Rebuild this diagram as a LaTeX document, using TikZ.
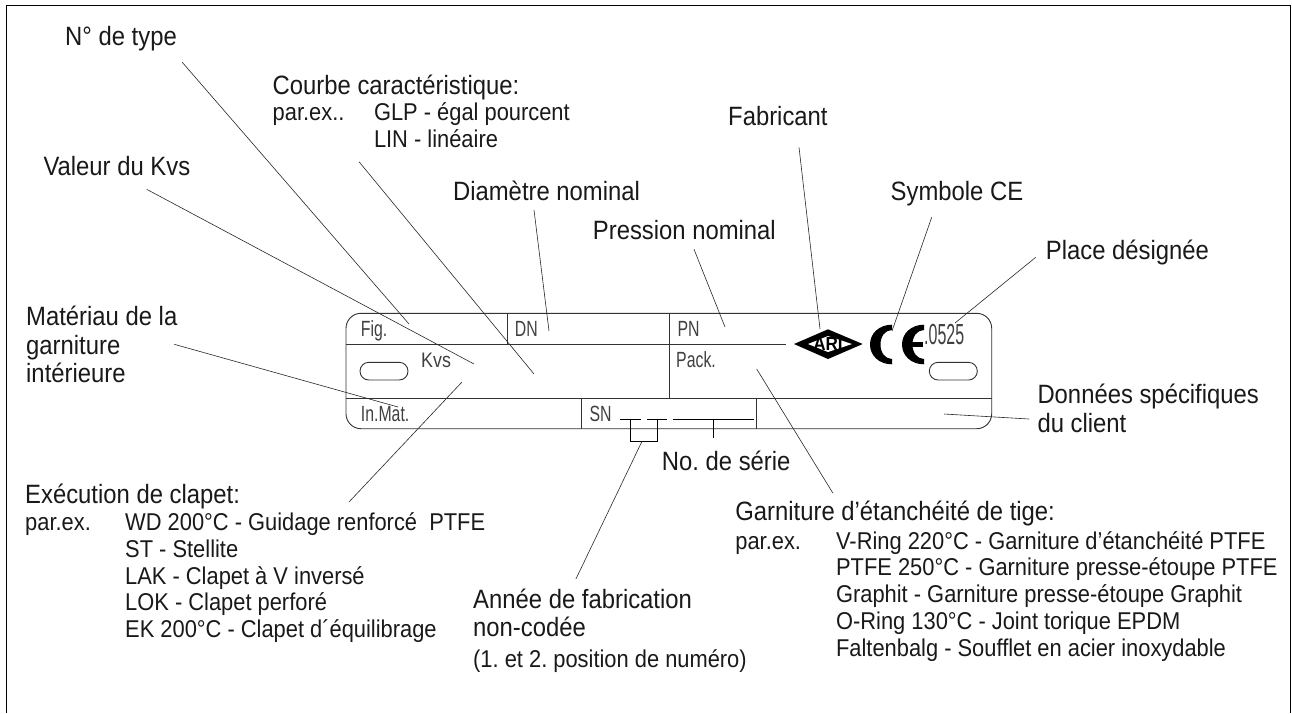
\documentclass[tikz,border=0pt]{standalone}
\usepackage{fontspec}
\setmainfont[FakeStretch=0.9]{Liberation Sans}
\newfontfamily\platefont[FakeStretch=0.72]{Liberation Sans}
\newfontfamily\kvsfont[FakeStretch=0.85]{Liberation Sans}
\newfontfamily\codefont[FakeStretch=0.55]{Liberation Sans}
\tikzset{
  lab/.style={inner sep=0pt,anchor=base west,font=\fontsize{26.5}{26.5}\selectfont,text=black!90},
  sublab/.style={lab,font=\fontsize{24.3}{24.3}\selectfont},
  platetext/.style={inner sep=0pt,anchor=base west,text=black!75,font=\platefont\fontsize{22}{22}\selectfont},
  leader/.style={draw=black!85,line width=0.6pt},
  plateline/.style={draw=black!80,line width=0.9pt},
  frameline/.style={draw=black,line width=1.1pt},
  markline/.style={draw=black,line width=0.9pt}
}
\begin{document}
\frenchspacing
\begin{tikzpicture}[x=1pt,y=-1pt]
\useasboundingbox (0,0) rectangle (1292,713);
% frame, open at the bottom
\coordinate (fbl) at (6.5,713); \coordinate (ftl) at (6.5,5.5);
\coordinate (ftr) at (1290.5,5.5); \coordinate (fbr) at (1290.5,713);
\draw[frameline] (fbl) -- (ftl) -- (ftr) -- (fbr);
% plate
\draw[plateline,rounded corners=15pt] (346,313.3) rectangle (991.7,428.7);
\coordinate (r1l) at (346,344); \coordinate (r1e) at (786,344);
\coordinate (r2l) at (346,398); \coordinate (r2r) at (991.7,398);
\draw[plateline] (r1l) -- (r1e);
\draw[plateline] (r2l) -- (r2r);
\draw[plateline] (507.3,313.3) -- (507.3,344);
\draw[plateline] (669,313.3) -- (669,398);
\draw[plateline] (581.3,398) -- (581.3,428.7);
\draw[plateline] (756.3,398) -- (756.3,428.7);
\draw[plateline,rounded corners=8.8pt] (360,362.3) rectangle (408,380);
\draw[plateline,rounded corners=8.8pt] (929.3,362.3) rectangle (977.3,380);
% plate texts
\node[platetext] (tfig) at (360.7,336.7) {Fig.};
\node[platetext] (tdn) at (514.7,336.7) {DN};
\node[platetext] (tpn) at (677.3,336.7) {PN};
\node[platetext] (tpack) at (676,367.3) {Pack.};
\node[platetext,font=\kvsfont\fontsize{21}{21}\selectfont] (tkvs) at (421,367.3) {Kvs};
\node[platetext] (tinmat) at (360.7,421.7) {In.Mat.};
\node[platetext] (tsn) at (589.3,421.7) {SN};
\node[platetext,font=\codefont\fontsize{29}{29}\selectfont] (tcode) at (924,344.3) {.0525};
% ARI logo
\fill[black] (794,344) -- (828,329.3) -- (862.7,344) -- (828,359) -- cycle;
\fill[white] (808,344) -- (828,336) -- (852,344) -- (828,352) -- cycle;
\node[inner sep=0pt,font=\bfseries\fontsize{19}{19}\selectfont] (tari) at (828,344) {ARI};
% CE mark
\fill[black] (892,324.7) .. controls (879,324.7) and (870,333.5) .. (870,344.5) .. controls (870,355.5) and (879,364.3) .. (892,364.3) -- (892,359) .. controls (885,359) and (880.5,352.5) .. (880.5,344.5) .. controls (880.5,336.5) and (885,330) .. (892,330) -- cycle;
\fill[black] (924,324.7) .. controls (911,324.7) and (902,333.5) .. (902,344.5) .. controls (902,355.5) and (911,364.3) .. (924,364.3) -- (924,359) .. controls (917,359) and (912.5,352.5) .. (912.5,344.5) .. controls (912.5,336.5) and (917,330) .. (924,330) -- cycle;
\fill[black] (908,342.3) rectangle (923,346.7);
% serial number marks
\coordinate (d1a) at (620,419); \coordinate (d1b) at (640.7,419);
\coordinate (d2a) at (647,419); \coordinate (d2b) at (667,419);
\coordinate (d3a) at (673,419); \coordinate (d3b) at (754,419);
\draw[markline] (d1a) -- (d1b);
\draw[markline] (d2a) -- (d2b);
\draw[markline] (d3a) -- (d3b);
\coordinate (bra) at (630.7,419); \coordinate (brb) at (630.7,441.3);
\coordinate (brc) at (657.3,441.3); \coordinate (brd) at (657.3,419);
\draw[markline] (bra) -- (brb) -- (brc) -- (brd);
\coordinate (tka) at (713.3,419); \coordinate (tkb) at (713.3,437.7);
\draw[markline] (tka) -- (tkb);
% labels
\node[lab] (ltype) at (65,45) {N° de type};
\node[lab] (lcourbe) at (272.5,94) {Courbe caractéristique:};
\node[sublab] (lpar1) at (272.5,120) {par.ex..};
\node[sublab] (lglp) at (373.8,120) {GLP - égal pourcent};
\node[sublab] (llin) at (373.8,147.7) {LIN - linéaire};
\node[lab] (lkvs) at (43.3,175.7) {Valeur du Kvs};
\node[lab] (ldn) at (452.9,200) {Diamètre nominal};
\node[lab] (lpn) at (592.7,239.3) {Pression nominal};
\node[lab] (lfab) at (728,125.7) {Fabricant};
\node[lab] (lce) at (890.5,200) {Symbole CE};
\node[lab] (lplace) at (1045.7,259.3) {Place désignée};
\node[lab] (lmat1) at (26,325) {Matériau de la};
\node[lab] (lmat2) at (26,354) {garniture};
\node[lab] (lmat3) at (26,382.7) {intérieure};
\node[lab] (ldon1) at (1037.3,403) {Données spécifiques};
\node[lab] (ldon2) at (1037.3,432.7) {du client};
\node[lab] (lserie) at (661.7,470) {No. de série};
\node[lab] (lexe) at (25,503) {Exécution de clapet:};
\node[sublab] (lpar2) at (25,530) {par.ex.};
\node[sublab] (lwd) at (125,530) {WD 200°C - Guidage renforcé\ \ PTFE};
\node[sublab] (lst) at (125,557) {ST - Stellite};
\node[sublab] (llak) at (125,584) {LAK - Clapet à V inversé};
\node[sublab] (llok) at (125,610) {LOK - Clapet perforé};
\node[sublab] (lek) at (125,637) {EK 200°C - Clapet d´équilibrage};
\node[lab] (lan1) at (473,608.3) {Année de fabrication};
\node[lab] (lan2) at (473,636.7) {non-codée};
\node[sublab] (lan3) at (473,667) {(1. et 2. position de numéro)};
\node[lab] (lgar) at (735.2,520) {Garniture d’étanchéité de tige:};
\node[sublab] (lpar3) at (735.2,549) {par.ex.};
\node[sublab] (lv) at (835.9,549) {V-Ring 220°C - Garniture d’étanchéité PTFE};
\node[sublab] (lptfe) at (835.9,575.7) {PTFE 250°C - Garniture presse-étoupe PTFE};
\node[sublab] (lgra) at (835.9,602.3) {Graphit - Garniture presse-étoupe Graphit};
\node[sublab] (lo) at (835.9,629) {O-Ring 130°C - Joint torique EPDM};
\node[sublab] (lfal) at (835.9,656.3) {Faltenbalg - Soufflet en acier inoxydable};
% leaders
\coordinate (a1) at (182,62); \coordinate (b1) at (409,324);
\coordinate (a2) at (146.7,189.3); \coordinate (b2) at (474,364);
\coordinate (a3) at (359,161.7); \coordinate (b3) at (534,374);
\coordinate (a4) at (534,210); \coordinate (b4) at (549,331);
\coordinate (a5) at (694,249.3); \coordinate (b5) at (725,327);
\coordinate (a6) at (799,147.3); \coordinate (b6) at (820,329);
\coordinate (a7) at (931.7,217.3); \coordinate (b7) at (892,331);
\coordinate (a8) at (1035.7,257.3); \coordinate (b8) at (955,323);
\coordinate (a9) at (1029,419); \coordinate (b9) at (944,414);
\coordinate (a10) at (174.3,344.3); \coordinate (b10) at (398,407);
\coordinate (a11) at (349,502); \coordinate (b11) at (462,382);
\coordinate (a12) at (575.9,579); \coordinate (b12) at (642,441.3);
\coordinate (a13) at (832.8,493); \coordinate (b13) at (756.7,369);
\foreach \i in {1,...,13} {\draw[leader] (a\i) -- (b\i);}
\end{tikzpicture}
\end{document}
